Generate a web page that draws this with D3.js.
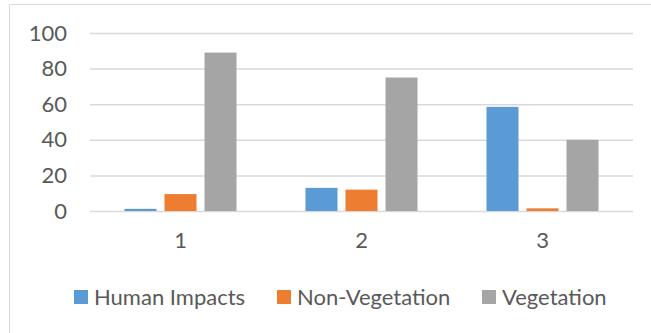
<!DOCTYPE html>
<html>
<head>
<meta charset="utf-8">
<script src="https://cdn.jsdelivr.net/npm/d3@7/dist/d3.min.js"></script>
<style>
  html, body { margin: 0; padding: 0; background: #fff; }
  svg { display: block; }
  text { font-family: Lato, "Open Sans", sans-serif; fill: #595959; }
</style>
</head>
<body>
<svg id="chart" width="651" height="333"></svg>
<script>
// Land-cover shares per class
const categories = ["1", "2", "3"];
const seriesNames = ["Human Impacts", "Non-Vegetation", "Vegetation"];
const humanImpacts = [1.2, 13, 58.5];
const nonVegetation = [9.5, 12, 1.5];
const vegetation = [89, 75, 40];
const yTicks = [0, 20, 40, 60, 80, 100];
const colors = ["#5B9BD5", "#ED7D31", "#A5A5A5"];

const values = [humanImpacts, nonVegetation, vegetation];
const rows = categories.map((c, i) => ({
  cat: c,
  vals: seriesNames.map((s, j) => ({ series: s, value: values[j][i], color: colors[j] }))
}));

const svg = d3.select("#chart");
const W = 651, H = 333;
const plot = { left: 90, right: 633, top: 33, bottom: 211 };
const fontSize = 22;

// outer frame (top and left edges)
svg.append("path")
  .attr("d", `M9.5,${H} V4.5 H${W}`)
  .attr("fill", "none")
  .attr("stroke", "#d9d9d9")
  .attr("stroke-width", 1);

const x0 = d3.scaleBand().domain(categories)
  .range([plot.left, plot.right])
  .paddingInner(0.381).paddingOuter(0.1905);
const x1 = d3.scaleBand().domain(seriesNames)
  .range([0, x0.bandwidth()])
  .paddingInner(0.2);
const y = d3.scaleLinear().domain([0, 100]).range([plot.bottom, plot.top]);

// horizontal gridlines + y labels
const yAxis = d3.axisLeft(y).tickValues(yTicks).tickSize(-(plot.right - plot.left)).tickPadding(23);
const gy = svg.append("g").attr("transform", `translate(${plot.left},0)`).call(yAxis);
gy.select(".domain").remove();
gy.selectAll(".tick line").attr("stroke", "#d9d9d9").attr("stroke-width", 1.5);
gy.selectAll(".tick text")
  .style("font-family", "Lato, 'Open Sans', sans-serif")
  .attr("font-size", fontSize).attr("fill", "#595959");

// bars
const groups = svg.append("g").selectAll("g").data(rows).join("g")
  .attr("transform", d => `translate(${x0(d.cat)},0)`);
groups.selectAll("rect").data(d => d.vals).join("rect")
  .attr("x", d => x1(d.series))
  .attr("width", x1.bandwidth())
  .attr("y", d => y(d.value))
  .attr("height", d => y(0) - y(d.value))
  .attr("fill", d => d.color);

// category labels
const xAxis = d3.axisBottom(x0).tickSize(0).tickPadding(21);
const gx = svg.append("g").attr("transform", `translate(0,${plot.bottom})`).call(xAxis);
gx.select(".domain").remove();
gx.selectAll(".tick text")
  .style("font-family", "Lato, 'Open Sans', sans-serif")
  .attr("font-size", fontSize).attr("fill", "#595959");

// legend
const legendX = [74, 277, 482];
const legend = svg.append("g").selectAll("g").data(seriesNames).join("g")
  .attr("transform", (d, i) => `translate(${legendX[i]},290)`);
legend.append("rect").attr("width", 14).attr("height", 14)
  .attr("fill", (d, i) => colors[i]);
legend.append("text").attr("x", 20).attr("y", 7).attr("dy", "0.35em")
  .attr("font-size", fontSize).text(d => d);
</script>
</body>
</html>
